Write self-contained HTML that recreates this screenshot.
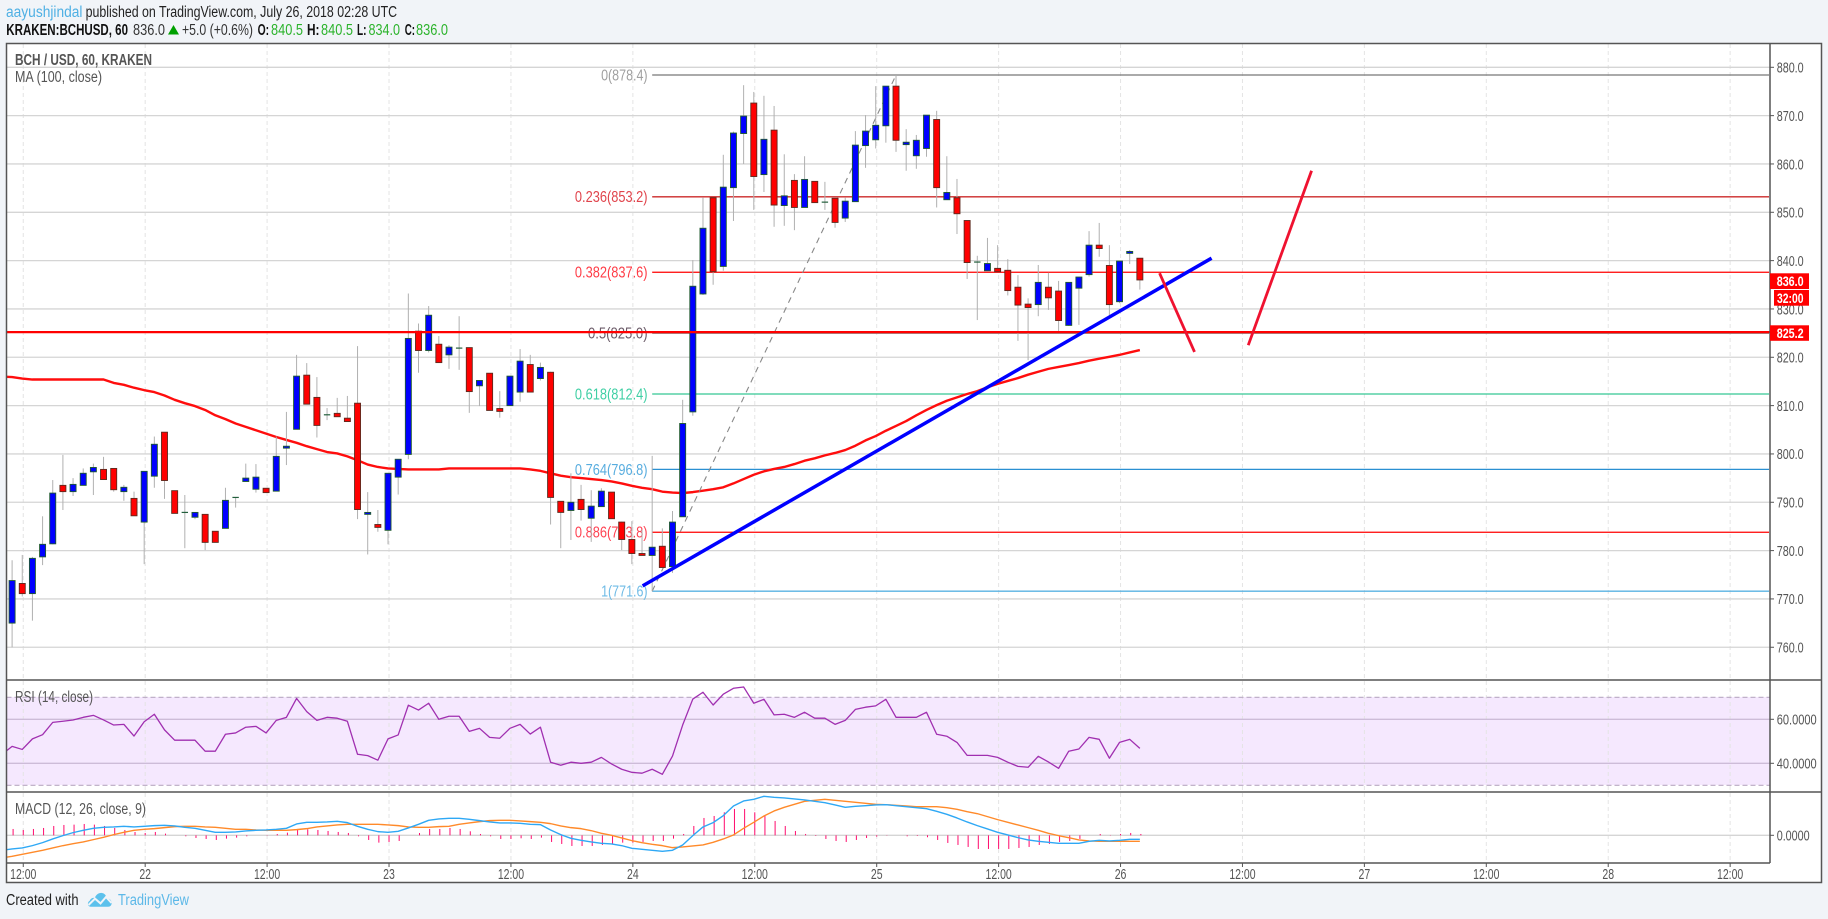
<!DOCTYPE html>
<html lang="en">
<head>
<meta charset="utf-8">
<title>BCH / USD chart</title>
<style>
html,body{margin:0;padding:0;background:#f1f4f8;}
svg{display:block;font-family:"Liberation Sans",Arial,sans-serif;}
</style>
</head>
<body>
<svg id="chart" width="1828" height="919" viewBox="0 0 1828 919" xmlns="http://www.w3.org/2000/svg">
  <defs>
    <clipPath id="clip-main"><rect x="6.5" y="44" width="1763" height="636"/></clipPath>
    <clipPath id="clip-rsi"><rect x="6.5" y="680" width="1763" height="112"/></clipPath>
    <clipPath id="clip-macd"><rect x="6.5" y="792" width="1763" height="71"/></clipPath>
  </defs>
  <rect x="0" y="0" width="1828" height="919" fill="#f1f4f8"/>

  <g font-size="15.5">
    <text x="6" y="17" fill="#4fb0e4" textLength="76.5" lengthAdjust="spacingAndGlyphs">aayushjindal</text>
    <text x="85.6" y="17" fill="#222" textLength="311.5" lengthAdjust="spacingAndGlyphs">published on TradingView.com, July 26, 2018 02:28 UTC</text>
    <text x="6.3" y="35" fill="#111" font-weight="bold" textLength="121.7" lengthAdjust="spacingAndGlyphs">KRAKEN:BCHUSD, 60</text>
    <text x="133" y="35" fill="#333" textLength="32" lengthAdjust="spacingAndGlyphs">836.0</text>
    <polygon points="168,34.5 173.5,25 179,34.5" fill="#00a000"/>
    <text x="182" y="35" fill="#333" textLength="71" lengthAdjust="spacingAndGlyphs">+5.0 (+0.6%)</text>
    <text x="257.6" y="35" fill="#111" font-weight="bold" textLength="11.5" lengthAdjust="spacingAndGlyphs">O:</text>
    <text x="271" y="35" fill="#2bb32b" textLength="32" lengthAdjust="spacingAndGlyphs">840.5</text>
    <text x="307" y="35" fill="#111" font-weight="bold" textLength="12.5" lengthAdjust="spacingAndGlyphs">H:</text>
    <text x="321" y="35" fill="#2bb32b" textLength="32" lengthAdjust="spacingAndGlyphs">840.5</text>
    <text x="357" y="35" fill="#111" font-weight="bold" textLength="9.5" lengthAdjust="spacingAndGlyphs">L:</text>
    <text x="368.5" y="35" fill="#2bb32b" textLength="31.5" lengthAdjust="spacingAndGlyphs">834.0</text>
    <text x="404.7" y="35" fill="#111" font-weight="bold" textLength="10.3" lengthAdjust="spacingAndGlyphs">C:</text>
    <text x="416" y="35" fill="#2bb32b" textLength="32" lengthAdjust="spacingAndGlyphs">836.0</text>
  </g>

  <rect x="6.5" y="43.5" width="1815" height="839" fill="#ffffff"/>
  <rect id="rsiBand" x="6.5" y="697" width="1763.5" height="88" fill="#f5e8fe"/>

  <g id="layer-grid"></g>
  <g id="layer-fib" clip-path="url(#clip-main)"></g>
  <g id="layer-ma" clip-path="url(#clip-main)"></g>
  <g id="layer-fibtrend" clip-path="url(#clip-main)"></g>
  <g id="layer-candles" clip-path="url(#clip-main)"></g>
  <g id="layer-draw" clip-path="url(#clip-main)"></g>
  <g id="layer-rsi" clip-path="url(#clip-rsi)"></g>
  <g id="layer-macd" clip-path="url(#clip-macd)"></g>

  <g stroke="#555" stroke-width="1.5" fill="none">
    <rect x="6.5" y="43.5" width="1815" height="839"/>
    <line x1="1770" y1="43.5" x2="1770" y2="863"/>
    <line x1="6.5" y1="680" x2="1821.5" y2="680"/>
    <line x1="6.5" y1="792" x2="1821.5" y2="792"/>
    <line x1="6.5" y1="863" x2="1770" y2="863"/>
  </g>

  <g id="layer-axis"></g>

  <g font-size="15.5" fill="#555">
    <text x="15" y="65" font-weight="bold" textLength="137" lengthAdjust="spacingAndGlyphs">BCH / USD, 60, KRAKEN</text>
    <text x="15" y="82" textLength="87" lengthAdjust="spacingAndGlyphs">MA (100, close)</text>
    <text x="15" y="702" textLength="78" lengthAdjust="spacingAndGlyphs">RSI (14, close)</text>
    <text x="15" y="814" textLength="131" lengthAdjust="spacingAndGlyphs">MACD (12, 26, close, 9)</text>
  </g>

  <g font-size="14" font-weight="bold" fill="#fff">
    <rect x="1770" y="273.3" width="39" height="15.7" fill="#ff0000"/>
    <text x="1776.7" y="286" textLength="27" lengthAdjust="spacingAndGlyphs">836.0</text>
    <rect x="1774" y="290" width="35" height="15.7" fill="#ff0000"/>
    <text x="1777" y="302.8" textLength="26.5" lengthAdjust="spacingAndGlyphs">32:00</text>
    <rect x="1770" y="325.3" width="39" height="15.5" fill="#ff0000"/>
    <text x="1776.7" y="338" textLength="27" lengthAdjust="spacingAndGlyphs">825.2</text>
  </g>

  <g>
    <text x="6" y="905" font-size="15.5" fill="#222" textLength="72.5" lengthAdjust="spacingAndGlyphs">Created with</text>
    <g>
      <path d="M91,906.8 C87.5,906.8 86.8,902.5 89.8,900.6 C91,897.8 93.3,897.6 94.8,898 C96,894 100,892 103,893.2 C105.6,894.2 106.6,896.5 106.6,898 C110.5,898.4 112.8,902 111.2,905 C110.6,906.2 109.4,906.8 108,906.8 Z" fill="#5cc1ec"/>
      <polyline points="88.5,905 95,898.6 100.5,903.4 106,897 111.5,903" fill="none" stroke="#f1f4f8" stroke-width="2"/>
    </g>
    <text x="118" y="905" font-size="15.5" fill="#5cb8e8" textLength="71" lengthAdjust="spacingAndGlyphs">TradingView</text>
  </g>
</svg>
<script>
const opens = [765.0,773.2,771.1,778.7,781.4,793.5,792.2,793.5,796.3,796.8,797,792.2,790.8,785.9,795.4,804.5,792.4,787.9,786.9,787.5,784,784.6,791,794.3,792.7,792.9,792.3,801.2,805.1,816.3,811.7,808.1,808.4,807.4,810.5,787.5,785.4,784.2,795.2,799.9,825.4,821.4,822.7,820.5,821.9,822,814.1,816.7,809.4,810,812.8,818.5,815.6,816.9,790.2,788.3,790.6,786.7,789.1,792.1,785.9,782.3,779.4,779,780.9,776.7,787,808.7,833.1,853,838.8,855.1,866.3,872.6,857.8,867,851.4,856.6,851,856.4,852.1,852.9,848.8,852.2,863.8,865,867.9,876.1,864,861.7,863.2,869.2,852.6,853,848.3,839.7,837.9,838.4,838,834.5,831,830.9,834.5,833.7,826.6,834.3,837.1,843.2,839,831.5,841.5,840.5];
const highs = [778,779.1,778.7,787.1,794.6,799.8,795,797,798,799.4,797,793.6,792.2,796.4,803.6,804.5,792.4,791.5,787.9,787.5,784,793,791,798,797.9,792.9,803.6,808.7,820.5,818.8,815.9,809.5,811.6,812,822.3,792.1,788.4,796,798.9,833.2,827,830.6,824.4,822.5,828.5,822,815.2,816.7,813,816.1,821.7,820.5,818.9,817,790.2,796,793.6,792.5,792.9,792.1,786,786.1,784.3,799.6,784.6,788.2,811.2,840.1,853,853,861.9,866.7,876.3,874.9,874.1,872,862,857.9,861.6,856.4,856.3,852.9,853,866.8,870.1,876.1,876.1,878.4,867.2,866,870.1,871,861.6,856.9,848.3,841,844.7,843.2,840.3,837,832.2,839.1,837.5,835.8,835.5,836.6,846.1,847.8,843.2,839.9,842.2,840.5];
const lows = [760,770.5,765.5,777,781.3,788.4,791.3,793.5,791.5,794.7,792.2,790.3,787.2,777.2,793,790.7,787.7,780.5,786.5,780.1,781.7,784.6,788.9,794.3,792,792,792.3,797.7,805.1,810.3,803.4,807,807.7,806.7,786.5,779.2,783.9,781.3,791.6,798.9,816.8,821,818.9,817.6,817.4,808.5,809.9,809,807.5,810,810.8,812.8,815.2,785.4,780.5,782.2,786.2,781.8,789.1,786.6,780.1,777.2,779,771.6,776.5,775.4,787,807.9,832.9,835,837.9,848.2,860,850.5,854.2,847,847.2,846.3,851,852,850.5,846.8,848,852.2,859.2,863.2,864.4,862.5,858.6,859,861.5,851,852.6,845.5,836.2,827.7,837.9,837.7,832.8,823.4,819.4,828.5,829.8,825.3,826.5,826.7,836.7,840.8,828.7,831.2,839.3,834];
const closes = [773.8,771.1,778.4,781.3,791.9,792.2,793.7,796,797.2,794.7,792.6,793.1,787.2,796.4,802,794.5,787.7,787.9,787.9,781.7,781.7,790.4,791,795,795.2,792,799.5,801.6,816.1,810.3,805.9,808.1,807.7,806.7,788.5,787.9,784.8,796,798.9,823.9,821.4,828.7,818.9,822.1,821.9,812.9,815.2,809,808.8,816.1,819.2,812.8,817.9,791,787.9,790,788.5,789.2,792.3,786.6,782.3,779.4,779,780.7,776.5,785.9,806.3,834.7,846.7,837.7,855.2,866.4,869.9,857.4,865.1,851.5,853.4,851,856.8,852,852.1,847.9,852.3,863.9,866.8,868,876.1,864.9,864.5,864.9,870.1,855.1,854.1,849.7,839.6,839.7,839.4,837.7,833.8,830.8,830.3,835.5,832.3,827.6,835.5,836.6,843.2,842.5,830.9,839.9,841.9,836];
const maValues = [815.9,815.6,815.4,815.4,815.4,815.4,815.4,815.4,815.4,815.4,814.7,814.3,813.7,813.2,812.8,812.1,811.2,810.5,809.9,809.1,808,807.2,806.3,805.6,804.9,804.2,803.5,802.9,802.3,801.6,801,800.4,800.1,799.5,798.7,797.8,797.3,797,796.9,796.8,796.8,796.8,796.8,797,797,797,797,797,797,797,797,796.8,796.5,796,795.5,795.2,795,794.8,794.6,794.3,793.9,793.4,793,792.7,792.2,792,791.9,792.1,792.4,792.7,793.1,793.9,794.8,795.7,796.4,796.9,797.3,797.9,798.6,799.1,799.7,800.2,800.8,801.7,802.8,803.7,804.8,805.8,806.8,808,809.1,810.1,811,811.7,812.4,813,813.8,814.5,815.1,815.7,816.4,817,817.6,818,818.4,818.8,819.3,819.7,820.1,820.5,821,821.5];
const rsiValues = [47.7,46.3,51.1,53,58.6,59.1,59.7,60.9,61.8,59.7,57.4,57.7,52.4,58.9,62.3,55.2,50.5,50.5,50.5,45.5,45.5,53.2,53.8,56.4,56.8,53.8,59.5,60.9,69.5,63.5,59.5,60.9,60.5,59.1,44.1,43.5,41.4,51.1,52.9,66.4,64.2,67.3,60,61.4,61.4,54.5,55.9,51.8,51.4,55.9,57.7,53.3,56.4,40.5,39.1,40.5,40,40.5,42.7,39.7,37.3,35.9,35.5,37.3,35,43.3,57.4,69.2,72.3,66.5,71.4,74.1,74.7,67.3,69.1,62,62.3,60.9,63.2,60.5,60.5,57.7,59.5,64.5,65.5,66.1,69.1,60.9,60.9,60.9,63.2,53.2,52.3,49.5,43.6,43.6,43.6,42.7,40.5,38.6,38.2,43.2,40.6,37.7,45.5,46.5,51.8,50.9,42.3,49.5,50.9,46.8];
const macdValues = [-4.1,-3.8,-3.1,-2.2,-1.1,-0.1,0.8,1.5,2.1,2.4,2.5,2.7,2.5,2.7,2.9,3.0,2.8,2.4,2.1,1.5,0.9,0.9,1.0,1.3,1.5,1.6,1.8,2.1,3.4,3.9,3.9,4.0,4.2,3.8,2.7,1.8,1.1,0.9,1.2,2.2,3.3,4.5,4.9,5.1,5.1,4.8,4.4,4.0,3.7,3.7,3.6,3.3,3.2,1.6,0.2,-0.9,-1.5,-2.0,-2.4,-2.6,-3.1,-3.9,-4.2,-4.5,-4.8,-4.5,-2.9,-0.1,2.5,3.8,5.9,8.8,10.3,10.8,11.7,11.4,11.2,10.9,10.6,10.2,9.8,9.1,8.4,8.7,8.9,9.1,9.2,8.9,8.6,8.3,8.0,7.2,6.3,5.2,4.0,2.9,1.9,0.9,0.1,-0.7,-1.4,-1.8,-2.1,-2.4,-2.4,-2.4,-1.8,-1.5,-1.7,-1.5,-1.2,-1.2];
const signalValues = [-6.3,-5.7,-5.1,-4.5,-3.8,-3.1,-2.5,-2.0,-1.3,-0.6,0.2,0.9,1.5,1.8,2.0,2.3,2.6,2.7,2.7,2.5,2.4,2.1,1.8,1.8,1.6,1.5,1.5,1.5,1.7,2.0,2.5,2.8,3.1,3.3,3.3,3.3,3.3,3.1,2.9,2.5,2.4,2.4,2.6,2.7,3.3,3.7,4.1,4.4,4.5,4.5,4.3,4.1,3.9,3.5,2.8,2.3,2.0,1.4,0.6,0,-0.8,-1.6,-2.2,-2.7,-3.1,-3.7,-3.5,-3.2,-2.9,-2.1,-1.1,0.1,2.1,3.9,5.8,7.3,8.4,9.3,10.2,10.5,10.8,10.5,10.2,9.9,9.6,9.3,9.2,9.0,8.8,8.6,8.6,8.6,8.3,7.8,7.1,6.5,5.6,4.7,3.9,3.1,2.3,1.5,0.6,-0.1,-0.7,-1.4,-1.7,-1.8,-1.8,-1.8,-1.8,-1.8];
const histValues = [1.9,1.6,1.9,2.2,2.8,3.1,3.2,3.4,3.2,2.8,2.2,1.6,1.0,0.7,1.0,0.5,0,-0.3,-0.8,-1.1,-1.4,-1.0,-0.7,-0.3,0,0.1,0.4,0.8,1.6,1.8,1.6,1.3,1.0,0.7,-0.3,-1.4,-2.2,-2.0,-1.7,0,0.7,1.9,1.9,2.2,1.9,1.2,0.4,-0.3,-1.1,-1.1,-0.9,-1.1,-0.7,-2.0,-2.6,-3.2,-3.2,-3.2,-2.9,-2.6,-2.2,-2.2,-2.0,-1.7,-1.7,-1.0,0.4,2.8,5.2,5.8,6.9,7.9,7.9,6.9,6.0,4.3,2.8,1.3,0.4,-0.2,-1.1,-1.7,-2.0,-1.4,-0.8,-0.4,0.1,0,-0.3,-0.2,-0.6,-1.4,-2.3,-2.9,-3.5,-4.1,-4.1,-4.1,-4.1,-3.8,-3.5,-2.9,-2.6,-2.0,-1.7,-1.1,0,0.4,0.1,0.4,0.7,0.4];
const leadIn = {ma: 816.0, rsi: 44.0, macd: -4.5, signal: -6.8};

const priceTicks = ['880.0','870.0','860.0','850.0','840.0','830.0','820.0','810.0','800.0','790.0','780.0','770.0','760.0'];
const rsiTicks = ['60.0000','40.0000'];
const macdTicks = ['0.0000'];
const timeTickBars = [1,13,25,37,49,61,73,85,97,109,121,133,145,157,169];
const timeTickLabels = ['12:00','22','12:00','23','12:00','24','12:00','25','12:00','26','12:00','27','12:00','28','12:00'];

const fibRatios = ['0','0.236','0.382','0.5','0.618','0.764','0.886','1'];
const fibPrices = [878.4,853.2,837.6,825.0,812.4,796.8,783.8,771.6];
const fibLineColors = ['#777777','#cc2a2a','#ff0000','#666666','#35c893','#2a90d2','#ff0000','#5ab2e2'];
const fibTextColors = ['#a0a0a0','#e0434b','#ff3b45','#6b5b68','#3fcfa4','#58addf','#ff4252','#6fbbe6'];
const fibTrendBars = [63,87];
const fibTrendPrices = [771.6,878.4];

const resistancePrice = 825.2;
const trendBars = [62.06,118.06];
const trendPrices = [772.7,840.5];
const arrowDownBars = [112.94,116.38];
const arrowDownPrices = [837.4,821.1];
const arrowUpBars = [121.67,127.9];
const arrowUpPrices = [822.5,858.6];

const NS = 'http://www.w3.org/2000/svg';
const PANE_LEFT = 6.5, PANE_RIGHT = 1770;
function barX(i){ return 12.1 + i * 10.16; }
function priceY(p){ return 67.3 + (880 - p) * 4.833; }
function rsiY(v){ return 719.3 + (60 - v) * 2.2; }
function macdY(v){ return 835.3 - v * 3.333; }
function gridX(i){ return barX(i) + 1; }

function mk(tag, attrs, parent){
  const el = document.createElementNS(NS, tag);
  for (const k in attrs) el.setAttribute(k, attrs[k]);
  parent.appendChild(el);
  return el;
}
function textWidth(s){
  let w = 0;
  for (const c of s) w += (c === '.' || c === ':') ? 2.85 : 5.85;
  return w;
}
function linePath(values, xf, yf, first){
  let d = 'M' + xf(-1).toFixed(2) + ' ' + yf(first).toFixed(2);
  values.forEach(function(v, i){ d += 'L' + xf(i).toFixed(2) + ' ' + yf(v).toFixed(2); });
  return d;
}

const gridLayer = document.getElementById('layer-grid');
const axisLayer = document.getElementById('layer-axis');
const fibLayer = document.getElementById('layer-fib');
const maLayer = document.getElementById('layer-ma');
const fibTrendLayer = document.getElementById('layer-fibtrend');
const candleLayer = document.getElementById('layer-candles');
const drawLayer = document.getElementById('layer-draw');
const rsiLayer = document.getElementById('layer-rsi');
const macdLayer = document.getElementById('layer-macd');

/* vertical grid + time axis */
timeTickBars.forEach(function(b, i){
  const x = gridX(b);
  const gl = mk('line', {x1:x, y1:44, x2:x, y2:863, stroke:'#e4e4e4', 'stroke-width':1, 'stroke-dasharray':'4 3'}, gridLayer);
  
  
  const tk = mk('line', {x1:x, y1:863, x2:x, y2:867, stroke:'#555', 'stroke-width':1}, axisLayer);
  
  
  const s = timeTickLabels[i];
  const t = mk('text', {x:x, y:879, 'text-anchor':'middle', 'font-size':14.5, fill:'#555', textLength:textWidth(s), lengthAdjust:'spacingAndGlyphs'}, axisLayer);
  t.textContent = s;
  
  
});

/* price grid + price axis */
priceTicks.forEach(function(s){
  const y = priceY(parseFloat(s));
  const gl = mk('line', {x1:PANE_LEFT, y1:y, x2:PANE_RIGHT, y2:y, stroke:'#d5d5d5', 'stroke-width':1.3}, gridLayer);
  
  
  const tk = mk('line', {x1:PANE_RIGHT, y1:y, x2:PANE_RIGHT + 4, y2:y, stroke:'#555', 'stroke-width':1}, axisLayer);
  
  
  const t = mk('text', {x:1776.7, y:y + 5.3, 'font-size':14.5, fill:'#555', textLength:27, lengthAdjust:'spacingAndGlyphs'}, axisLayer);
  t.textContent = s;
  
  
});

/* RSI grid and axis */
rsiTicks.forEach(function(s){
  const y = rsiY(parseFloat(s));
  const gl = mk('line', {x1:PANE_LEFT, y1:y, x2:PANE_RIGHT, y2:y, stroke:'#cdbcd8', 'stroke-width':1.3}, gridLayer);
  
  
  const tk = mk('line', {x1:PANE_RIGHT, y1:y, x2:PANE_RIGHT + 4, y2:y, stroke:'#555', 'stroke-width':1}, axisLayer);
  
  
  const t = mk('text', {x:1776.7, y:y + 5.3, 'font-size':14.5, fill:'#555', textLength:40, lengthAdjust:'spacingAndGlyphs'}, axisLayer);
  t.textContent = s;
  
  
});
[70, 30].forEach(function(v){
  const y = rsiY(v);
  const gl = mk('line', {x1:PANE_LEFT, y1:y, x2:PANE_RIGHT, y2:y, stroke:'#b9a9c2', 'stroke-width':1.1, 'stroke-dasharray':'5 3'}, gridLayer);
  
  
});

/* MACD grid and axis */
macdTicks.forEach(function(s){
  const y = macdY(parseFloat(s));
  const gl = mk('line', {x1:PANE_LEFT, y1:y, x2:PANE_RIGHT, y2:y, stroke:'#d5d5d5', 'stroke-width':1.3}, gridLayer);
  
  
  const tk = mk('line', {x1:PANE_RIGHT, y1:y, x2:PANE_RIGHT + 4, y2:y, stroke:'#555', 'stroke-width':1}, axisLayer);
  
  
  const t = mk('text', {x:1776.7, y:y + 5.3, 'font-size':14.5, fill:'#555', textLength:33, lengthAdjust:'spacingAndGlyphs'}, axisLayer);
  t.textContent = s;
  
  
});

/* Fibonacci levels */
fibPrices.forEach(function(p, i){
  const y = priceY(p);
  const startX = barX(fibTrendBars[0]);
  const ln = mk('line', {x1:startX, y1:y, x2:PANE_RIGHT - 1, y2:y, stroke:fibLineColors[i], 'stroke-width':1.3}, fibLayer);
  
  
  const t = mk('text', {x:startX - 4.6, y:y + 5.4, 'text-anchor':'end', 'font-size':15.5, fill:fibTextColors[i]}, fibLayer);
  t.textContent = fibRatios[i] + '(' + p.toFixed(1) + ')';
  const chars = t.textContent.length;
  t.setAttribute('textLength', (chars - 2) * 6.55 + 2 * 3.6);
  t.setAttribute('lengthAdjust', 'spacingAndGlyphs');
  
  
});

/* MA line */
const maLine = mk('path', {d:linePath(maValues, barX, priceY, leadIn.ma), fill:'none', stroke:'#ff0d0d', 'stroke-width':2.4, 'stroke-linejoin':'round'}, maLayer);



/* dashed fib trend */
const fibTrend = mk('line', {x1:barX(fibTrendBars[0]), y1:priceY(fibTrendPrices[0]), x2:barX(fibTrendBars[1]), y2:priceY(fibTrendPrices[1]), stroke:'#888', 'stroke-width':1.1, 'stroke-dasharray':'6 5'}, fibTrendLayer);



/* candles */
opens.forEach(function(o, i){
  const c = closes[i], x = barX(i);
  const g = mk('g', {}, candleLayer);
  
  
  const wick = mk('line', {x1:x, y1:priceY(highs[i]), x2:x, y2:priceY(lows[i]), stroke:'#b0b0b0', 'stroke-width':1}, g);
  
  
  const top = Math.max(o, c), bot = Math.min(o, c);
  const yTop = priceY(top), yBot = priceY(bot);
  if (yBot - yTop < 1) {
    const dj = mk('line', {x1:x - 3.2, y1:yTop, x2:x + 3.2, y2:yTop, stroke:'#235f3c', 'stroke-width':1.2}, g);
    
    
  } else {
    const up = c >= o;
    const body = mk('rect', {x:x - 3, y:yTop, width:6, height:yBot - yTop, fill:up ? '#0000ff' : '#ff0000', stroke:up ? '#1f5a2e' : '#5c2a1e', 'stroke-width':0.9}, g);
    
    
  }
});

/* drawn lines */
const resistance = mk('line', {x1:PANE_LEFT, y1:priceY(resistancePrice), x2:PANE_RIGHT, y2:priceY(resistancePrice), stroke:'#ff0000', 'stroke-width':2.2}, drawLayer);


const trend = mk('line', {x1:barX(trendBars[0]), y1:priceY(trendPrices[0]), x2:barX(trendBars[1]), y2:priceY(trendPrices[1]), stroke:'#0000ff', 'stroke-width':3.5}, drawLayer);


const arrowDown = mk('line', {x1:barX(arrowDownBars[0]), y1:priceY(arrowDownPrices[0]), x2:barX(arrowDownBars[1]), y2:priceY(arrowDownPrices[1]), stroke:'#ef1230', 'stroke-width':2.8}, drawLayer);


const arrowUp = mk('line', {x1:barX(arrowUpBars[0]), y1:priceY(arrowUpPrices[0]), x2:barX(arrowUpBars[1]), y2:priceY(arrowUpPrices[1]), stroke:'#ef1230', 'stroke-width':2.8}, drawLayer);



/* RSI */
const rsiLine = mk('path', {d:linePath(rsiValues, barX, rsiY, leadIn.rsi), fill:'none', stroke:'#a02fb0', 'stroke-width':1.3, 'stroke-linejoin':'round'}, rsiLayer);



/* MACD */
histValues.forEach(function(v, i){
  const x = barX(i) + 1;
  const bar = mk('line', {x1:x, y1:macdY(0), x2:x, y2:macdY(v), stroke:'#ff0a6c', 'stroke-width':1}, macdLayer);
  
  
});
const signalLine = mk('path', {d:linePath(signalValues, barX, macdY, leadIn.signal), fill:'none', stroke:'#ff8a2a', 'stroke-width':1.4, 'stroke-linejoin':'round'}, macdLayer);


const macdLine = mk('path', {d:linePath(macdValues, barX, macdY, leadIn.macd), fill:'none', stroke:'#2ea8f5', 'stroke-width':1.4, 'stroke-linejoin':'round'}, macdLayer);


</script>
</body>
</html>
